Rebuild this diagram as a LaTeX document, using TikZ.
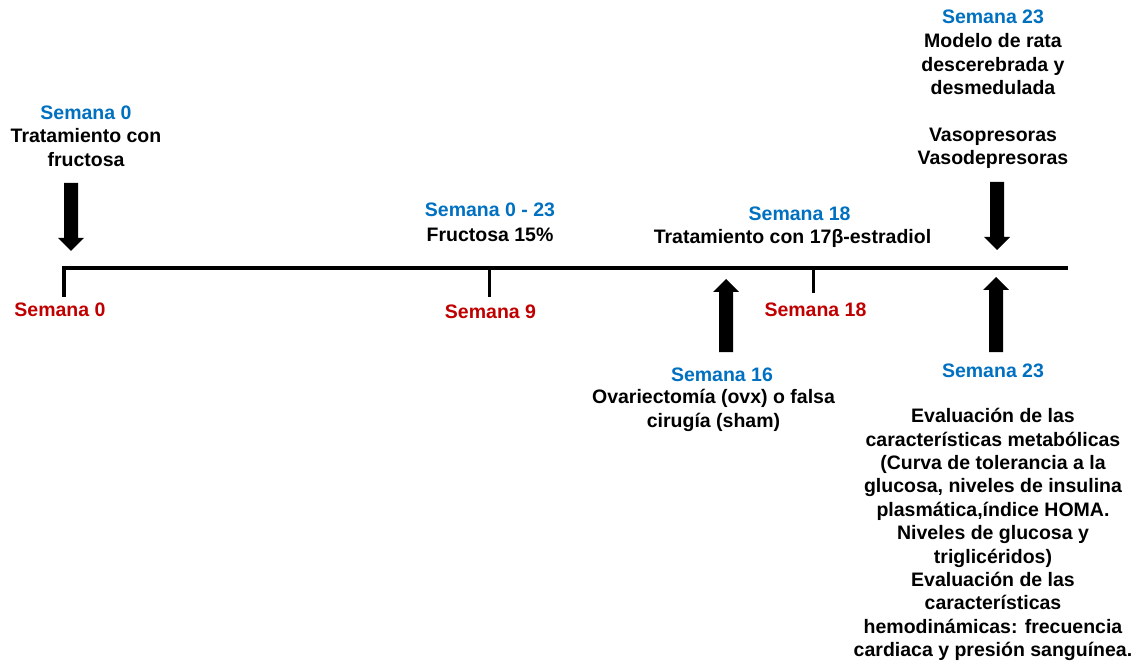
\documentclass[tikz,border=0pt]{standalone}
\usepackage{fontspec}
\setmainfont{Liberation Sans}
\definecolor{wkblue}{HTML}{0070C0}
\definecolor{wkred}{HTML}{C00000}
\tikzset{
  lbl/.style={font=\bfseries\fontsize{19.5}{23.4}\selectfont, align=center, anchor=base, inner sep=0pt},
  bluelbl/.style={lbl, text=wkblue},
  redlbl/.style={lbl, text=wkred},
  blacklbl/.style={lbl, text=black},
  axisline/.style={line width=4pt, line join=miter, line cap=butt},
  tickline/.style={line width=3pt, line cap=butt},
  pics/bigarrow/.style={code={
    \fill (0,0) -- (13,-13) -- (7,-13) -- (7,-#1) -- (-7,-#1) -- (-7,-13) -- (-13,-13) -- cycle;
  }}
}
\begin{document}
\begin{tikzpicture}[x=1pt,y=-1pt]
\useasboundingbox (0,0) rectangle (1138,668);

% timeline
\coordinate (t0) at (64,297);
\coordinate (tc) at (64,268);
\coordinate (tend) at (1068,268);
\draw[axisline] (t0) -- (tc) -- (tend);
\coordinate (k9a) at (489,268);
\coordinate (k9b) at (489,297);
\coordinate (k18a) at (813,268);
\coordinate (k18b) at (813,293);
\draw[tickline] (k9a) -- (k9b);
\draw[tickline] (k18a) -- (k18b);

% arrows
\pic (arrA) at (71,251) {bigarrow=68};
\pic (arrB) at (997,250) {bigarrow=68};
\pic[yscale=-1] (arrC) at (726,279) {bigarrow=73};
\pic[yscale=-1] (arrD) at (996,277) {bigarrow=75};

% red week labels
\node[redlbl] (r0) at (60,317) {Semana 0};
\node[redlbl] (r9) at (490.5,319) {Semana 9};
\node[redlbl] (r18) at (815.5,317) {Semana 18};

% left block (anchor base = last line's baseline)
\node[bluelbl] (b0) at (86,119.3) {Semana 0};
\node[blacklbl] (t0txt) at (86,166.3) {Tratamiento con\\fructosa};

% middle
\node[bluelbl] (b023) at (490,217) {Semana 0 - 23};
\node[blacklbl] (fr) at (490,241.5) {Fructosa 15\%};

\node[bluelbl] (b18) at (799.6,221) {Semana 18};
\node[blacklbl] (est) at (792.5,244) {Tratamiento con 17β-estradiol};

\node[bluelbl] (b16) at (722,381.5) {Semana 16};
\node[blacklbl] (ovx) at (713.5,427) {Ovariectomía (ovx) o falsa\\cirugía (sham)};

% top right
\node[bluelbl] (b23a) at (993,23.3) {Semana 23};
\node[blacklbl] (mod) at (993,164.7) {Modelo de rata\\descerebrada y\\desmedulada\\[23.4pt]Vasopresoras\\Vasodepresoras};

% bottom right
\node[bluelbl] (b23b) at (993,377.3) {Semana 23};
\node[blacklbl] (ev) at (993,656.7) {Evaluación de las\\características metabólicas\\(Curva de tolerancia a la\\glucosa, niveles de insulina\\plasmática,índice HOMA.\\Niveles de glucosa y\\triglicéridos)\\Evaluación de las\\características\\hemodinámicas: frecuencia\\cardiaca y presión sanguínea.};
\end{tikzpicture}
\end{document}
